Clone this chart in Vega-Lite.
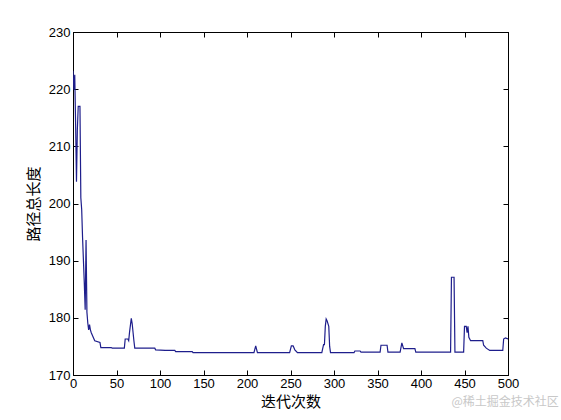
{
  "$schema": "https://vega.github.io/schema/vega-lite/v6.json",
  "autosize": "none",
  "width": 435,
  "height": 343,
  "padding": {"left": 73, "top": 32, "right": 53, "bottom": 45},
  "background": "white",
  "config": {
    "view": {"stroke": "black", "strokeWidth": 1},
    "axis": {"grid": false, "domainColor": "black", "tickColor": "black", "labelColor": "black", "titleColor": "black", "labelFont": "Liberation Sans", "labelFontSize": 13, "titleFont": "Noto Sans CJK SC", "titleFontSize": 15, "titleFontWeight": "normal"}
  },
  "title": {"text": "@稀土掘金技术社区", "orient": "bottom", "anchor": "end", "offset": -12, "fontSize": 12, "font": "Noto Sans CJK SC", "fontWeight": "normal", "color": "#c8c8c8", "dx": 40},
  "data": {"values": [
    {"it": 0, "len": 223.2}, {"it": 1, "len": 219.9}, {"it": 2, "len": 222.5}, {"it": 3, "len": 214},
    {"it": 4, "len": 203.8}, {"it": 5, "len": 212.9}, {"it": 6, "len": 217}, {"it": 7, "len": 217},
    {"it": 8, "len": 217}, {"it": 9, "len": 201}, {"it": 10, "len": 198.9}, {"it": 11, "len": 194},
    {"it": 12, "len": 190}, {"it": 13, "len": 186}, {"it": 14, "len": 181.4}, {"it": 15, "len": 193.6},
    {"it": 16, "len": 181}, {"it": 17, "len": 179.1}, {"it": 18, "len": 177.9}, {"it": 19, "len": 178.8},
    {"it": 20, "len": 177.9}, {"it": 21, "len": 177.4}, {"it": 25, "len": 176}, {"it": 31, "len": 175.7},
    {"it": 32, "len": 174.8}, {"it": 44, "len": 174.8}, {"it": 45, "len": 174.7}, {"it": 59, "len": 174.7},
    {"it": 60, "len": 176.3}, {"it": 63, "len": 176.3}, {"it": 64, "len": 176}, {"it": 65, "len": 177.5},
    {"it": 67, "len": 179.9}, {"it": 68, "len": 179}, {"it": 70, "len": 176}, {"it": 71, "len": 174.7},
    {"it": 94, "len": 174.7}, {"it": 95, "len": 174.4}, {"it": 106, "len": 174.3}, {"it": 117, "len": 174.3},
    {"it": 118, "len": 174.1}, {"it": 137, "len": 174.1}, {"it": 138, "len": 173.9}, {"it": 208, "len": 173.9},
    {"it": 210, "len": 175.1}, {"it": 212, "len": 173.9}, {"it": 249, "len": 173.9}, {"it": 251, "len": 175.1},
    {"it": 253, "len": 175.1}, {"it": 255, "len": 174.4}, {"it": 258, "len": 173.9}, {"it": 286, "len": 173.9},
    {"it": 288, "len": 175.3}, {"it": 289, "len": 175.3}, {"it": 290, "len": 178.5}, {"it": 291, "len": 179.8},
    {"it": 292, "len": 179.5}, {"it": 294, "len": 178.5}, {"it": 295, "len": 175}, {"it": 296, "len": 173.9},
    {"it": 323, "len": 173.9}, {"it": 324, "len": 174.2}, {"it": 330, "len": 174.2}, {"it": 331, "len": 174},
    {"it": 353, "len": 174}, {"it": 354, "len": 175.2}, {"it": 361, "len": 175.2}, {"it": 362, "len": 174},
    {"it": 376, "len": 174}, {"it": 378, "len": 175.6}, {"it": 380, "len": 174.6}, {"it": 393, "len": 174.6},
    {"it": 394, "len": 174}, {"it": 434, "len": 174}, {"it": 435, "len": 187.1}, {"it": 438, "len": 187.1},
    {"it": 439, "len": 174}, {"it": 449, "len": 174}, {"it": 450, "len": 178.5}, {"it": 452, "len": 178.5},
    {"it": 453, "len": 177.4}, {"it": 454, "len": 178.5}, {"it": 455, "len": 176.6}, {"it": 457, "len": 176},
    {"it": 471, "len": 176}, {"it": 472, "len": 175.2}, {"it": 475, "len": 174.7}, {"it": 479, "len": 174.3},
    {"it": 494, "len": 174.3}, {"it": 495, "len": 176.3}, {"it": 497, "len": 176.5}, {"it": 500, "len": 176.3}
  ]},
  "layer": [
    {
      "mark": {"type": "line", "color": "#1e1e8c", "strokeWidth": 1.2, "clip": true},
      "encoding": {
        "x": {"field": "it", "type": "quantitative", "scale": {"domain": [0, 500], "nice": false, "zero": false},
              "axis": {"title": "迭代次数", "values": [0,50,100,150,200,250,300,350,400,450,500], "tickSize": -5, "labelPadding": 7, "titlePadding": 4, "labelFlush": false}},
        "y": {"field": "len", "type": "quantitative", "scale": {"domain": [170, 230], "nice": false, "zero": false},
              "axis": {"title": "路径总长度", "values": [170,180,190,200,210,220,230], "tickSize": -5, "labelPadding": 8, "titlePadding": 7, "labelFlush": false}}
      }
    },
    {
      "mark": {"type": "line", "opacity": 0},
      "encoding": {
        "x": {"field": "it", "type": "quantitative", "axis": {"orient": "top", "title": null, "labels": false, "values": [0,50,100,150,200,250,300,350,400,450,500], "tickSize": -5}},
        "y": {"field": "len", "type": "quantitative", "axis": {"orient": "right", "title": null, "labels": false, "values": [170,180,190,200,210,220,230], "tickSize": -5}}
      }
    }
  ],
  "resolve": {"axis": {"x": "independent", "y": "independent"}}
}
